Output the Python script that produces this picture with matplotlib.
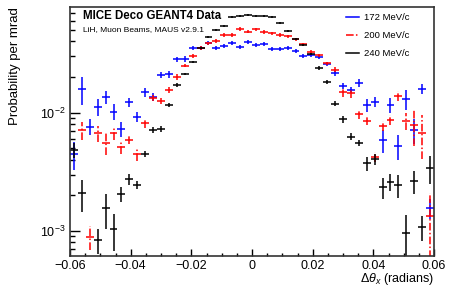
import numpy as np
import matplotlib
matplotlib.use('Agg')
import matplotlib.pyplot as plt
from matplotlib.lines import Line2D
from matplotlib.ticker import MultipleLocator, FuncFormatter, LogLocator

plt.rcParams['font.family'] = ['Liberation Sans', 'DejaVu Sans']
plt.rcParams['mathtext.fontset'] = 'custom'
plt.rcParams['mathtext.rm'] = 'Liberation Sans'
plt.rcParams['mathtext.it'] = 'Liberation Sans:italic'

# histogram binning: 46 bins over [-0.06, 0.06]
bin_edges = np.linspace(-0.06, 0.06, 47)

labels = ['172 MeV/c', '200 MeV/c', '240 MeV/c']

p172 = [0.00448, 0.01578, 0.00762, 0.01124, 0.01349, 0.01020, 0.00728, 0.01225, 0.00925, 0.01486,
        0.01358, 0.02085, 0.02104, 0.02818, 0.02844, 0.03499, 0.03500, 0.03915, 0.03540, 0.03664,
        0.03861, 0.03614, 0.03981, 0.03733, 0.03811, 0.03451, 0.03450, 0.03540, 0.03304, 0.03034,
        0.03055, 0.02958, 0.02582, 0.02153, 0.01683, 0.01556, 0.01796, 0.01161, 0.01239, 0.00588,
        0.01161, 0.00523, 0.01297, 0.00714, 0.01585, 0.00156]
e172 = [0.27, 0.26, 0.15, 0.17, 0.12, 0.15, 0.15, 0.08, 0.10, 0.08,
        0.08, 0.06, 0.06, 0.05, 0.05, 0.04, 0.04, 0.04, 0.04, 0.04,
        0.04, 0.04, 0.04, 0.04, 0.04, 0.04, 0.04, 0.04, 0.04, 0.04,
        0.04, 0.04, 0.04, 0.05, 0.06, 0.06, 0.08, 0.13, 0.10, 0.22,
        0.15, 0.24, 0.19, 0.24, 0.10, 0.19]

p200 = [np.nan, 0.00714, 0.000889, 0.00670, 0.00557, 0.00670, 0.00510, 0.00588, 0.00445, 0.00814,
        0.01324, 0.01262, 0.01556, 0.02005, 0.02494, 0.03013, 0.03524, 0.03846, 0.04036, 0.04539,
        0.04539, 0.05098, 0.04840, 0.05070, 0.04808, 0.04688, 0.04539, 0.04426, 0.04169, 0.03785,
        0.03281, 0.03046, 0.02616, 0.02317, 0.01486, 0.01459, 0.00969, 0.00856, 0.00425, 0.00776,
        0.00868, 0.01384, 0.00851, 0.00787, 0.00678, 0.00134]
e200 = [np.nan, 0.17, 0.23, 0.15, 0.21, 0.13, 0.13, 0.08, 0.13, 0.08,
        0.06, 0.06, 0.05, 0.05, 0.03, 0.03, 0.03, 0.03, 0.03, 0.03,
        0.03, 0.03, 0.03, 0.03, 0.03, 0.03, 0.03, 0.03, 0.03, 0.03,
        0.03, 0.03, 0.03, 0.04, 0.08, 0.08, 0.08, 0.08, 0.10, 0.10,
        0.10, 0.10, 0.16, 0.33, 0.40, 0.56]

p240 = [0.00484, 0.002084, np.nan, 0.000839, 0.001556, 0.001033, 0.002056, 0.002735, 0.002449, 0.00448,
        0.00714, 0.00728, 0.01161, 0.01714, 0.02123, 0.02698, 0.03540, 0.04365, 0.04970, 0.05370,
        0.06383, 0.06561, 0.06699, 0.06531, 0.06607, 0.06442, 0.05768, 0.04932, 0.04178, 0.03733,
        0.03148, 0.02370, 0.01828, 0.01191, 0.00879, 0.00627, 0.00557, 0.00373, 0.00404, 0.00234,
        0.00261, 0.00245, 0.000968, 0.00266, 0.001087, 0.00339]
e240 = [0.15, 0.30, np.nan, 0.24, 0.33, 0.35, 0.14, 0.10, 0.08, 0.06,
        0.05, 0.05, 0.04, 0.03, 0.02, 0.02, 0.02, 0.02, 0.02, 0.02,
        0.02, 0.02, 0.02, 0.02, 0.02, 0.02, 0.02, 0.02, 0.02, 0.02,
        0.02, 0.04, 0.04, 0.05, 0.07, 0.07, 0.06, 0.13, 0.10, 0.20,
        0.17, 0.22, 0.42, 0.22, 0.24, 0.27]

series = [(p172, e172, '#0000ff', '-'),
          (p200, e200, '#ff0000', (0, (5, 1.5, 1, 1.5))),
          (p240, e240, '#000000', '-')]

fig = plt.figure(figsize=(4.5, 2.87), dpi=100)
ax = fig.add_axes([70/450, 31/287, 364/450, 249/287])

centres = 0.5*(bin_edges[1:] + bin_edges[:-1])
halfw = 0.5*np.diff(bin_edges)

for p, e, col, ls in series:
    p = np.array(p)
    err = p*np.array(e)
    eb = ax.errorbar(centres, p, yerr=err, xerr=halfw, fmt='none',
                     ecolor=col, elinewidth=1.1, capsize=0)
    eb.lines[2][1].set_linestyle(ls)

ax.set_yscale('log')
ax.set_xlim(-0.06, 0.06)
ax.set_ylim(6.15e-4, 0.0782)

ax.xaxis.set_major_locator(MultipleLocator(0.02))
ax.xaxis.set_minor_locator(MultipleLocator(0.005))
ax.xaxis.set_major_formatter(FuncFormatter(
    lambda v, pos: '0' if abs(v) < 1e-9 else ('%.2f' % v).replace('-', '\u2212')))
ax.yaxis.set_major_locator(LogLocator(base=10))
ax.yaxis.set_minor_locator(LogLocator(base=10, subs=np.arange(2, 10)))

ax.tick_params(axis='x', which='major', direction='in', length=5, width=1, labelsize=9, pad=3)
ax.tick_params(axis='x', which='minor', direction='in', length=2.5, width=1)
ax.tick_params(axis='y', which='major', direction='in', length=7.5, width=1, labelsize=9, pad=3)
ax.tick_params(axis='y', which='minor', direction='in', length=3.8, width=1)
for s in ax.spines.values():
    s.set_linewidth(1.2)
    s.set_color('#333333')

ax.set_ylabel('Probability per mrad', fontsize=9.5, loc='top', labelpad=14)
ax.set_xlabel(r'$\Delta\theta_{x}$ (radians)', fontsize=9, loc='right')
ax.xaxis.set_label_coords(1.0, -0.062)

ax.text(0.035, 0.962, 'MICE Deco GEANT4 Data', transform=ax.transAxes,
        fontsize=8.3, fontweight='bold', va='center', ha='left')
ax.text(0.035, 0.91, 'LiH, Muon Beams, MAUS v2.9.1', transform=ax.transAxes,
        fontsize=6, va='center', ha='left')

handles = [Line2D([], [], color=c, linestyle=ls, linewidth=1.1) for _, _, c, ls in series]
ax.legend(handles, labels, loc='upper right', frameon=False, fontsize=6.8,
          handlelength=1.4, handletextpad=0.5, labelspacing=0.95,
          bbox_to_anchor=(0.955, 1.01))

fig.savefig('out.png', dpi=100)
